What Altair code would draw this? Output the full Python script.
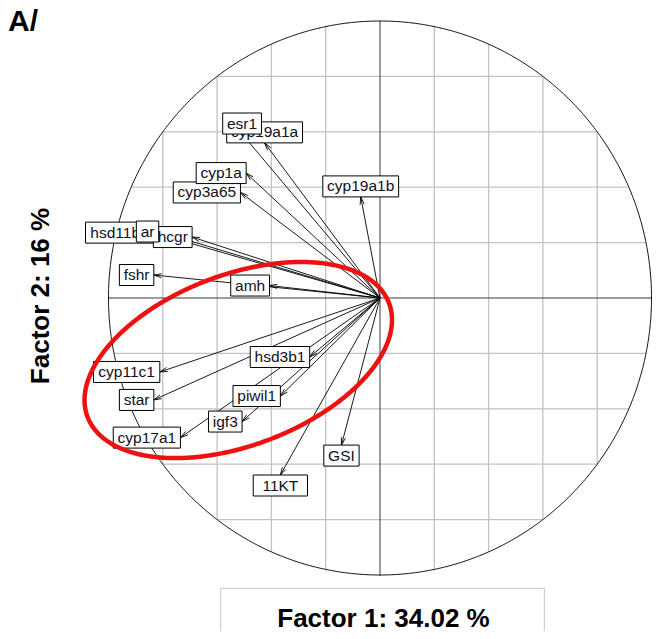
import numpy as np
import pandas as pd
import altair as alt

# ---- data: correlation-circle loadings (Factor 1, Factor 2) ----
labels = ["cyp19a1a", "esr1", "cyp3a65", "cyp1a", "cyp19a1b", "hsd11b2", "hcgr", "ar",
          "fshr", "amh", "cyp11c1", "star", "cyp17a1", "hsd3b1", "piwil1", "igf3",
          "GSI", "\u00a0\u00a011KT"]
f1 = [-0.425, -0.508, -0.514, -0.493, -0.071, -0.834, -0.692, -0.815,
      -0.833, -0.407, -0.811, -0.833, -0.735, -0.259, -0.367, -0.508,
      -0.142, -0.367]
f2 = [0.560, 0.592, 0.381, 0.451, 0.365, 0.236, 0.220, 0.240,
      0.083, 0.045, -0.267, -0.368, -0.504, -0.213, -0.354, -0.446,
      -0.531, -0.639]
grid_vals = [-0.8, -0.6, -0.4, -0.2, 0.2, 0.4, 0.6, 0.8]
# red ellipse highlighting the cluster (centre, semi-axes, tilt in degrees)
ell_center = (-0.522, -0.224)
ell_axes = (0.592, 0.309)
ell_tilt = 20.0

# ---- layout constants ----
W, H = 644, 623
PXX, PXY = 271.5, 277.0          # pixels per unit
CXP, CYP = 380.0 - 8, 298 - 8    # origin in plot pixels
XMIN = -CXP / PXX
XMAX = XMIN + W / PXX
YMAX = CYP / PXY
YMIN = YMAX - H / PXY
FONT = "Liberation Sans, Arial, sans-serif"
FS = 15.5

xsc = alt.Scale(domain=[XMIN, XMAX], nice=False, zero=False)
ysc = alt.Scale(domain=[YMIN, YMAX], nice=False, zero=False)

def X(f):
    return alt.X(f, type="quantitative", scale=xsc, axis=None)

def Y(f):
    return alt.Y(f, type="quantitative", scale=ysc, axis=None)

# ---- grid segments clipped to unit circle ----
g_rows = []
for g in grid_vals:
    h = float(np.sqrt(1 - g * g))
    g_rows.append({"x": g, "y": -h, "x2": g, "y2": h})
    g_rows.append({"x": -h, "y": g, "x2": h, "y2": g})
grid_df = pd.DataFrame(g_rows)
axes_df = pd.DataFrame([{"x": -1, "y": 0, "x2": 1, "y2": 0},
                        {"x": 0, "y": -1.003, "x2": 0, "y2": 1}])

t = np.linspace(0, 2 * np.pi, 721)
circ_df = pd.DataFrame({"x": np.cos(t), "y": np.sin(t), "o": np.arange(len(t))})

th = np.radians(ell_tilt)
ell_df = pd.DataFrame({
    "x": ell_center[0] + ell_axes[0] * np.cos(t) * np.cos(th) - ell_axes[1] * np.sin(t) * np.sin(th),
    "y": ell_center[1] + ell_axes[0] * np.cos(t) * np.sin(th) + ell_axes[1] * np.sin(t) * np.cos(th),
    "o": np.arange(len(t))})

# ---- arrows: shafts + open heads (length 8 px, 15 deg), computed in pixel space ----
seg = []
L = 8.0
ang = np.radians(15)
for xv, yv in zip(f1, f2):
    seg.append({"x": 0.0, "y": 0.0, "x2": xv, "y2": yv})
    px, py = xv * PXX, yv * PXY
    n = np.hypot(px, py)
    ux, uy = -px / n, -py / n
    for s in (ang, -ang):
        rx = ux * np.cos(s) - uy * np.sin(s)
        ry = ux * np.sin(s) + uy * np.cos(s)
        seg.append({"x": xv, "y": yv, "x2": xv + L * rx / PXX, "y2": yv + L * ry / PXY})
seg_df = pd.DataFrame(seg)

# ---- label boxes (ade4 scatterutil.eti.circ placement) ----
cw = {"a": .556, "b": .556, "c": .5, "d": .556, "e": .556, "f": .278, "g": .556, "h": .556,
      "i": .222, "l": .222, "m": .833, "p": .556, "r": .333, "s": .5, "t": .278, "w": .722,
      "y": .5, "G": .778, "S": .667, "I": .278, "K": .667, "T": .611, " ": .278, "\u00a0": .278}
yh = 10.5 / PXY
rows = []
for i, (lab, xv, yv) in enumerate(zip(labels, f1, f2)):
    wpx = (sum(cw.get(c, .556) for c in lab) + 2 * .278) * FS
    xh = wpx / PXX
    if xv > yv and xv > -yv:
        cx, cy = xv + xh / 2, yv
    elif xv > yv and xv <= -yv:
        cx, cy = xv, yv - yh
    elif xv <= yv and xv <= -yv:
        cx, cy = xv - xh / 2, yv
    else:
        cx, cy = xv, yv + yh
    rows.append({"idx": i, "label": lab, "cx": cx, "cy": cy,
                 "bx": cx - xh / 2, "bx2": cx + xh / 2, "by": cy - yh, "by2": cy + yh})
lab_df = pd.DataFrame(rows)

layers = []
layers.append(alt.Chart(grid_df).mark_rule(color="#c2c2c2", strokeWidth=1.3).encode(
    x=X("x"), y=Y("y"), x2="x2", y2="y2"))
layers.append(alt.Chart(axes_df).mark_rule(color="#3a3a3a", strokeWidth=1).encode(
    x=X("x"), y=Y("y"), x2="x2", y2="y2"))
layers.append(alt.Chart(circ_df).mark_line(color="#111111", strokeWidth=1).encode(
    x=X("x"), y=Y("y"), order="o:Q"))
layers.append(alt.Chart(seg_df).mark_rule(color="black", strokeWidth=0.9).encode(
    x=X("x"), y=Y("y"), x2="x2", y2="y2"))

for i in range(len(labels)):
    base = alt.Chart(lab_df).transform_filter(alt.datum.idx == i)
    layers.append(base.mark_rect(fill="white", stroke="black", strokeWidth=1).encode(
        x=X("bx"), x2="bx2", y=Y("by"), y2="by2"))
    layers.append(base.mark_text(font=FONT, fontSize=FS, color="#101020",
                                 baseline="middle", align="center").encode(
        x=X("cx"), y=Y("cy"), text="label:N"))

layers.append(alt.Chart(ell_df).mark_line(color="#ee1111", strokeWidth=4.5).encode(
    x=X("x"), y=Y("y"), order="o:Q"))

one = pd.DataFrame({"k": [0]})
layers.append(alt.Chart(one).mark_text(text="A/", font=FONT, fontSize=30, fontWeight="bold",
                                       align="left", baseline="alphabetic", color="black").encode(
    x=alt.value(0), y=alt.value(23)))
layers.append(alt.Chart(one).mark_text(text="Factor 2: 16 %", font=FONT, fontSize=26,
                                       fontWeight="bold", angle=270, align="center",
                                       baseline="middle", color="black").encode(
    x=alt.value(33), y=alt.value(288)))
layers.append(alt.Chart(one).mark_rect(fill="white", stroke="#c4c4c4", strokeWidth=1).encode(
    x=alt.value(212.7), x2=alt.value(536.3), y=alt.value(580.3), y2=alt.value(680)))
layers.append(alt.Chart(one).mark_text(text="Factor 1: 34.02 %", font=FONT, fontSize=26,
                                       fontWeight="bold", align="center",
                                       baseline="alphabetic", color="black").encode(
    x=alt.value(375.5), y=alt.value(619)))

chart = alt.layer(*layers).properties(
    width=W, height=H, padding=0,
    autosize=alt.AutoSizeParams(type="none"),
).configure_view(stroke=None)

chart.save("out.html", embed_options={"renderer": "svg", "actions": False})
